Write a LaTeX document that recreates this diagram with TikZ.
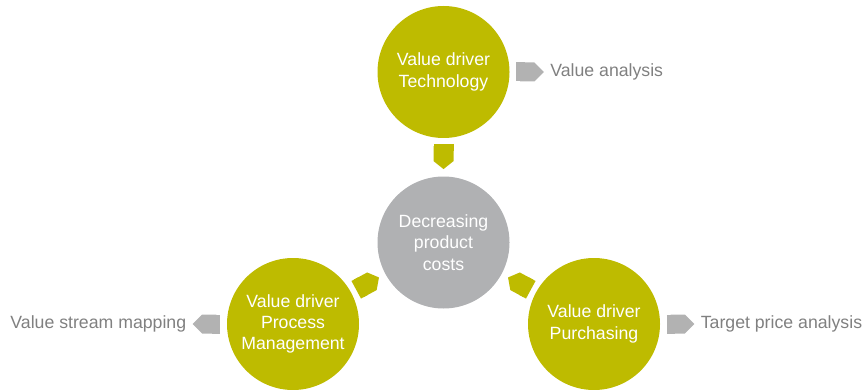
\documentclass[tikz,border=0pt]{standalone}
\usepackage{fontspec}
\setmainfont{Liberation Sans}
\usepackage{tikz}
\usetikzlibrary{positioning,arrows.meta}
\definecolor{olivedriver}{RGB}{190,187,0}
\definecolor{costgray}{RGB}{176,177,179}
\definecolor{tipgray}{RGB}{178,178,178}
\definecolor{labelgray}{RGB}{128,128,128}

\begin{document}
\begin{tikzpicture}[x=0.5pt,y=-0.5pt,font=\fontsize{8.85}{10.7}\selectfont,
  hub/.style={circle,minimum size=66pt,inner sep=0pt,align=center,text=white},
  driver/.style={hub,fill=olivedriver},
  feed/.style={line width=10pt,draw=olivedriver,-{Triangle Cap[length=0pt .4]},shorten <=2.75pt,shorten >=3.5pt},
  pointer/.style={line width=9.5pt,draw=tipgray,-{Triangle Cap},shorten <=3.25pt},
  method/.style={text=labelgray,inner sep=3pt}]
\useasboundingbox (0,0) rectangle (867,390);
% hub and the three value drivers
\node[hub,fill=costgray] (cost) at (443.5,242.5) {Decreasing\\product\\costs};
\node[driver] (tech) at (443.5,72) {Value driver\\Technology};
\node[driver] (proc) at (293,324) {Value driver\\Process\\Management};
\node[driver] (purch) at (594,324) {Value driver\\Purchasing};
\draw[feed] (tech) -- (cost);
\draw[feed] (proc) -- (cost);
\draw[feed] (purch) -- (cost);
% methods beside each driver
\node[method,right=17pt of tech] (va) {Value analysis};
\node[method,left=17pt of proc] (vsm) {Value stream mapping};
\node[method,right=17pt of purch] (tpa) {Target price analysis};
\draw[pointer] (tech) -- (va);
\draw[pointer] (proc) -- (vsm);
\draw[pointer] (purch) -- (tpa);
\end{tikzpicture}
\end{document}
